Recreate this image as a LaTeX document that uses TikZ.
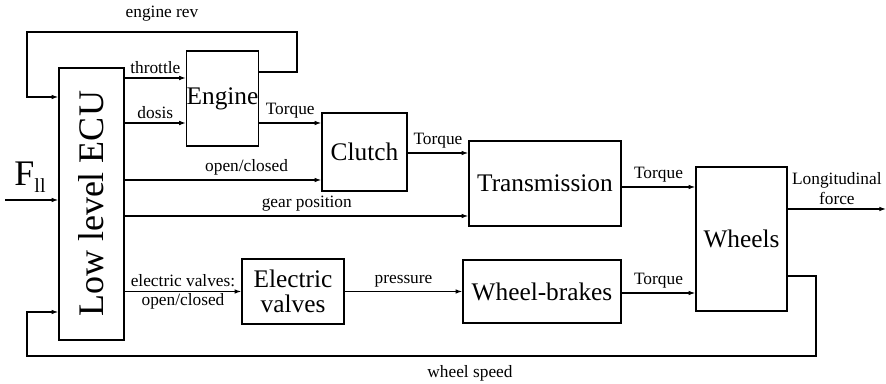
\documentclass[tikz,border=0pt]{standalone}
\usepackage{fontspec}
\setmainfont{Liberation Serif}
\usetikzlibrary{arrows.meta}
\tikzstyle{block} = [rectangle, draw=black, line width=1.1pt, align=center, inner sep=0pt, font=\fontsize{19}{19}\selectfont]
\tikzstyle{signal} = [-{Latex[length=5pt,width=3.5pt]}, line width=0.9pt]
\tikzstyle{lbl} = [font=\fontsize{13}{15}\selectfont, inner sep=2.8pt, align=center]
\tikzset{boxsize/.style 2 args={minimum width=#1*0.75pt, minimum height=#2*0.75pt}}
\newcommand{\hugetxt}{\fontsize{27}{29}\selectfont}

\begin{document}
\begin{tikzpicture}[x=0.75pt, y=-0.75pt]%
	\useasboundingbox (0,0) rectangle (886,384);%
	% blocks
	\node [block, boxsize={65}{272}] (ecu) at (91.5,204) {};%
	\node [rotate=90, font=\hugetxt] (ecutxt) at (ecu.center) {Low level ECU};%
	\node [block, boxsize={71}{95}] (engine) at (222.5,98.5) {Engine};%
	\node [block, boxsize={85}{78}] (clutch) at (364.5,152) {Clutch};%
	\node [block, boxsize={152}{85}] (trans) at (545,183.5) {Transmission};%
	\node [block, boxsize={91}{144}] (wheels) at (741.5,239) {Wheels};%
	\node [block, boxsize={102}{65}] (valves) at (293,291.5) {Electric\\valves};%
	\node [block, boxsize={158}{63}] (brakes) at (542,291.5) {Wheel-brakes};%
	% input and output
	\coordinate (fin) at (5,200);%
	\coordinate (fout) at (886,209);%
	\node [inner sep=0pt] (flabel) at (30,177) {{\hugetxt F}\raisebox{-5pt}{\fontsize{15}{15}\selectfont ll}};%
	\draw [signal] (fin) -- (ecu.west |- fin);%
	\draw [signal] (wheels.east |- fout) -- (fout) node [lbl, midway, above] {Longitudinal\\force};%
	% ecu outputs
	\draw [signal] (ecu.east |- 0,78) -- (engine.west |- 0,78) node [lbl, midway, above] {throttle};%
	\draw [signal] (ecu.east |- 0,123) -- (engine.west |- 0,123) node [lbl, midway, above] {dosis};%
	\draw [signal] (ecu.east |- 0,180) -- (clutch.west |- 0,180) node [lbl, pos=0.62, above] {open/closed};%
	\draw [signal] (ecu.east |- 0,216) -- (trans.west |- 0,216) node [lbl, pos=0.53, above] {gear position};%
	\draw [signal] (ecu.east |- valves) -- (valves.west) node [lbl, midway, above] {electric valves:} node [lbl, inner sep=1pt, midway, below] {open/closed};%
	% chain
	\draw [signal] (engine.east |- 0,123) -- (clutch.west |- 0,123) node [lbl, midway, above] {Torque};%
	\draw [signal] (clutch.east |- 0,153) -- (trans.west |- 0,153) node [lbl, midway, above] {Torque};%
	\draw [signal] (trans.east |- 0,187) -- (wheels.west |- 0,187) node [lbl, midway, above] {Torque};%
	\draw [signal] (valves.east) -- (brakes.west |- valves) node [lbl, midway, above] {pressure};%
	\draw [signal] (brakes.east |- 0,293) -- (wheels.west |- 0,293) node [lbl, midway, above] {Torque};%
	% feedback loops
	\draw [signal] (engine.east |- 0,72) -- (297,72) |- (27,32) |- (ecu.west |- 0,97);%
	\node [lbl] (revlabel) at (162,14) {engine rev};%
	\draw [signal] (wheels.east |- 0,276) -- (816,276) |- (27,356) |- (ecu.west |- 0,312);%
	\node [lbl] (speedlabel) at (470,373) {wheel speed};%
\end{tikzpicture}
\end{document}
